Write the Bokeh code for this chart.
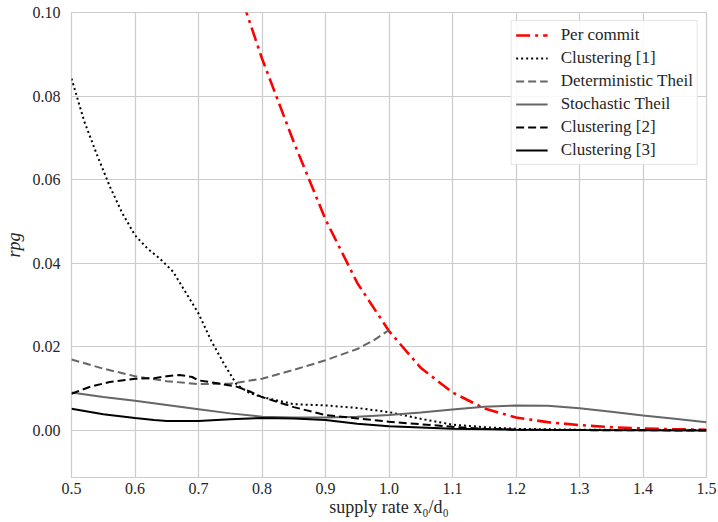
from bokeh.plotting import figure
from bokeh.models import Range1d, FixedTicker, NumeralTickFormatter, Legend, LegendItem
from bokeh.embed import file_html
from bokeh.resources import INLINE

# ---------------- data ----------------
per_commit_x = [0.77, 0.80, 0.85, 0.90, 0.95, 1.00, 1.05, 1.10, 1.15, 1.20, 1.25, 1.30, 1.35, 1.40, 1.45, 1.50]
per_commit_y = [0.1025, 0.0890, 0.0690, 0.0505, 0.0353, 0.0238, 0.0150, 0.0091, 0.0053, 0.0031,
                0.0020, 0.0013, 0.0008, 0.0005, 0.0003, 0.0002]

clust1_x = [0.50, 0.52, 0.54, 0.56, 0.58, 0.60, 0.62, 0.64, 0.66, 0.68, 0.70, 0.72, 0.74, 0.76,
            0.78, 0.80, 0.85, 0.90, 0.95, 1.00, 1.05, 1.10, 1.15, 1.20, 1.30, 1.40, 1.50]
clust1_y = [0.0842, 0.0740, 0.0660, 0.0585, 0.0520, 0.0467, 0.0435, 0.0410, 0.0380, 0.0330, 0.0280,
            0.0215, 0.0160, 0.0110, 0.0090, 0.0080, 0.0063, 0.0060, 0.0054, 0.0044, 0.0028, 0.0014,
            0.0008, 0.0004, 0.0002, 0.0001, 0.0001]

det_theil_x = [0.50, 0.55, 0.60, 0.65, 0.70, 0.75, 0.80, 0.85, 0.90, 0.95, 0.975, 1.00]
det_theil_y = [0.0170, 0.0148, 0.0130, 0.0118, 0.0111, 0.0112, 0.0124, 0.0145, 0.0168, 0.0195, 0.0215, 0.0240]

sto_theil_x = [0.50, 0.55, 0.60, 0.65, 0.70, 0.75, 0.80, 0.85, 0.90, 0.95, 1.00, 1.05, 1.10,
               1.15, 1.20, 1.25, 1.30, 1.35, 1.40, 1.45, 1.50]
sto_theil_y = [0.0091, 0.0080, 0.0071, 0.0061, 0.0051, 0.0041, 0.0033, 0.0031, 0.0031, 0.0033,
               0.0037, 0.0043, 0.0050, 0.0057, 0.0060, 0.0059, 0.0053, 0.0045, 0.0036, 0.0028, 0.0020]

clust2_x = [0.50, 0.53, 0.56, 0.60, 0.63, 0.65, 0.67, 0.69, 0.70, 0.73, 0.76, 0.78, 0.80, 0.85,
            0.90, 0.95, 1.00, 1.05, 1.10, 1.15, 1.20, 1.30, 1.50]
clust2_y = [0.0088, 0.0105, 0.0116, 0.0124, 0.0125, 0.0130, 0.0133, 0.0128, 0.0120, 0.0113, 0.0105,
            0.0094, 0.0080, 0.0056, 0.0037, 0.0029, 0.0021, 0.0015, 0.0009, 0.0004, 0.0002, 0.0001, 0.0000]

clust3_x = [0.50, 0.55, 0.60, 0.63, 0.65, 0.70, 0.75, 0.80, 0.85, 0.90, 0.95, 1.00, 1.05, 1.10,
            1.20, 1.30, 1.50]
clust3_y = [0.0052, 0.0039, 0.0030, 0.0025, 0.0023, 0.0023, 0.0027, 0.0030, 0.0029, 0.0025, 0.0016,
            0.0010, 0.0007, 0.0004, 0.0002, 0.0001, 0.0000]

x_ticks = [0.5, 0.6, 0.7, 0.8, 0.9, 1.0, 1.1, 1.2, 1.3, 1.4, 1.5]
y_ticks = [0.00, 0.02, 0.04, 0.06, 0.08, 0.10]

FONT = "Liberation Serif"
TXT = "#262626"
GRID = "#cccccc"

p = figure(width=718, height=522, output_backend="svg", toolbar_location=None,
           x_range=Range1d(0.5, 1.5), y_range=Range1d(-0.01124, 0.10),
           min_border_left=70, min_border_right=12, min_border_top=12, min_border_bottom=45,
           background_fill_color="white", border_fill_color="white")

p.outline_line_color = GRID
p.outline_line_width = 1.2
p.grid.grid_line_color = GRID
p.grid.grid_line_width = 1.2

p.xaxis.ticker = FixedTicker(ticks=x_ticks)
p.yaxis.ticker = FixedTicker(ticks=y_ticks)
p.xaxis.formatter = NumeralTickFormatter(format="0.0")
p.yaxis.formatter = NumeralTickFormatter(format="0.00")
for ax in (p.xaxis, p.yaxis):
    ax.axis_line_color = None
    ax.major_tick_line_color = None
    ax.minor_tick_line_color = None
    ax.major_tick_out = 0
    ax.major_tick_in = 0
    ax.major_label_text_font = FONT
    ax.major_label_text_font_size = "16px"
    ax.major_label_text_color = TXT
    ax.axis_label_text_font = FONT
    ax.axis_label_text_font_size = "18px"
    ax.axis_label_text_color = TXT
    ax.axis_label_text_font_style = "normal"
p.xaxis.major_label_standoff = 5
p.yaxis.major_label_standoff = 11
p.xaxis.axis_label = "supply rate x\u2080/d\u2080"
p.yaxis.axis_label = "rpg"
p.yaxis.axis_label_text_font_style = "italic"
p.xaxis.axis_label_standoff = 0
p.yaxis.axis_label_standoff = 6

r_pc = p.line(per_commit_x, per_commit_y, line_color="red", line_width=2.6, line_dash="14 5 3 5")
r_c1 = p.line(clust1_x, clust1_y, line_color="black", line_width=2.0, line_dash="2 3")
r_dt = p.line(det_theil_x, det_theil_y, line_color="#666666", line_width=2.0, line_dash="8 4")
r_st = p.line(sto_theil_x, sto_theil_y, line_color="#666666", line_width=2.0)
r_c2 = p.line(clust2_x, clust2_y, line_color="black", line_width=2.0, line_dash="8 4")
r_c3 = p.line(clust3_x, clust3_y, line_color="black", line_width=2.0)

legend = Legend(items=[
    LegendItem(label="Per commit", renderers=[r_pc]),
    LegendItem(label="Clustering [1]", renderers=[r_c1]),
    LegendItem(label="Deterministic Theil", renderers=[r_dt]),
    LegendItem(label="Stochastic Theil", renderers=[r_st]),
    LegendItem(label="Clustering [2]", renderers=[r_c2]),
    LegendItem(label="Clustering [3]", renderers=[r_c3]),
], location="top_right")
legend.margin = 8
legend.padding = 4
legend.spacing = 3
legend.glyph_width = 32
legend.glyph_height = 20
legend.label_height = 20
legend.label_standoff = 13
legend.label_text_font = FONT
legend.label_text_font_size = "17px"
legend.label_text_color = TXT
legend.border_line_color = GRID
legend.border_line_width = 1.2
legend.background_fill_color = "white"
legend.background_fill_alpha = 0.85
p.add_layout(legend)

open("out.html", "w").write(file_html(p, INLINE))
